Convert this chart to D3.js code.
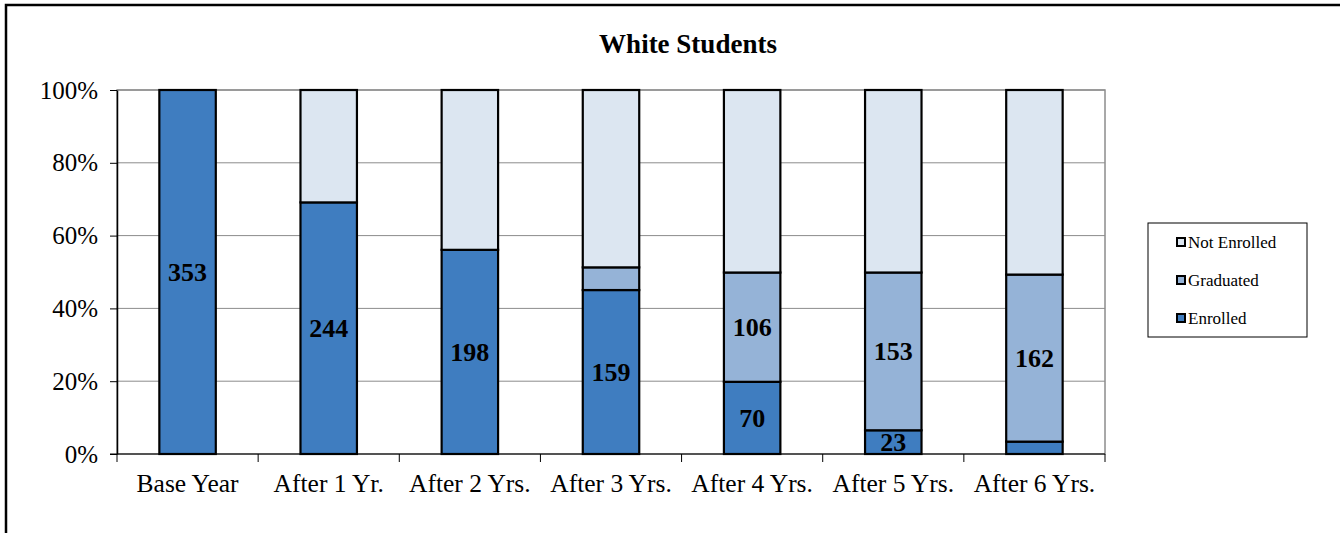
<!DOCTYPE html>
<html>
<head>
<meta charset="utf-8">
<title>White Students</title>
<script src="https://d3js.org/d3.v7.min.js"></script>
<style>
  body { margin: 0; background: #fff; }
  text { font-family: "Liberation Serif", "Times New Roman", serif; fill: #000; }
</style>
</head>
<body>
<script>
// data (student counts, cohort of 353)
var categories  = ["Base Year", "After 1 Yr.", "After 2 Yrs.", "After 3 Yrs.", "After 4 Yrs.", "After 5 Yrs.", "After 6 Yrs."];
var enrolled    = [353, 244, 198, 159, 70, 23, 12];
var graduated   = [0, 0, 0, 22, 106, 153, 162];
var notEnrolled = [0, 109, 155, 172, 177, 177, 179];
var showEnrolledLabel  = [true, true, true, true, true, true, false];
var showGraduatedLabel = [false, false, false, false, true, true, true];
var yTicks = [0, 0.2, 0.4, 0.6, 0.8, 1];

var W = 1340, H = 533;
var plot = {left: 117, right: 1105, top: 90, bottom: 454};

var svg = d3.select("body").append("svg").attr("width", W).attr("height", H);

// outer frame
svg.append("path").attr("d", "M6,533V5H1340").attr("fill", "none").attr("stroke", "#000").attr("stroke-width", 2.5);

var x = d3.scaleBand().domain(categories).range([plot.left, plot.right]).paddingInner(0.6).paddingOuter(0.3);
var xEdge = d3.scaleBand().domain(categories).range([plot.left, plot.right]);
var y = d3.scaleLinear().domain([0, 1]).range([plot.bottom, plot.top]);

// gridlines
svg.append("g").selectAll("line").data(yTicks.slice(1)).join("line")
  .attr("x1", plot.left).attr("x2", plot.right)
  .attr("y1", function(d) { return y(d); }).attr("y2", function(d) { return y(d); })
  .attr("stroke", "#8c8c8c").attr("stroke-width", 1);

// plot area border
svg.append("rect").attr("x", plot.left).attr("y", plot.top)
  .attr("width", plot.right - plot.left).attr("height", plot.bottom - plot.top)
  .attr("fill", "none").attr("stroke", "#8c8c8c").attr("stroke-width", 1.5);

// stacked data
var keys = ["enrolled", "graduated", "notEnrolled"];
var colors = {enrolled: "#3f7dc0", graduated: "#95b3d7", notEnrolled: "#dce6f1"};
var rows = categories.map(function(c, i) {
  var total = enrolled[i] + graduated[i] + notEnrolled[i];
  return {cat: c, i: i, enrolled: enrolled[i] / total, graduated: graduated[i] / total, notEnrolled: notEnrolled[i] / total,
          nE: enrolled[i], nG: graduated[i]};
});
var series = d3.stack().keys(keys)(rows);

var layers = svg.append("g").selectAll("g").data(series).join("g")
  .attr("fill", function(s) { return colors[s.key]; });

layers.selectAll("rect").data(function(s) { return s.filter(function(d) { return d[1] - d[0] > 0; }); }).join("rect")
  .attr("x", function(d) { return x(d.data.cat); })
  .attr("width", x.bandwidth())
  .attr("y", function(d) { return y(d[1]); })
  .attr("height", function(d) { return y(d[0]) - y(d[1]); })
  .attr("stroke", "#000").attr("stroke-width", 2.2);

// value labels
var labels = svg.append("g").attr("font-size", 26).attr("font-weight", "bold").attr("text-anchor", "middle");
series[0].forEach(function(d) {
  if (!showEnrolledLabel[d.data.i]) return;
  labels.append("text").attr("x", x(d.data.cat) + x.bandwidth() / 2)
    .attr("y", (y(d[0]) + y(d[1])) / 2).attr("dy", "0.35em").text(d.data.nE);
});
series[1].forEach(function(d) {
  if (!showGraduatedLabel[d.data.i]) return;
  labels.append("text").attr("x", x(d.data.cat) + x.bandwidth() / 2)
    .attr("y", (y(d[0]) + y(d[1])) / 2).attr("dy", "0.35em").text(d.data.nG);
});

// y axis
var yAxis = svg.append("g").attr("transform", "translate(" + plot.left + ",0)")
  .call(d3.axisLeft(y).tickValues(yTicks).tickFormat(d3.format(".0%")).tickSize(7).tickSizeOuter(0));
yAxis.select(".domain").attr("stroke", "#000").attr("stroke-width", 1.5);
yAxis.selectAll(".tick line").attr("stroke", "#000");
yAxis.selectAll("text").attr("font-size", 25).attr("x", -19).attr("font-family", "Liberation Serif, serif");

// x axis
svg.append("line").attr("x1", plot.left - 7).attr("x2", plot.right)
  .attr("y1", plot.bottom).attr("y2", plot.bottom).attr("stroke", "#000").attr("stroke-width", 1.2);
var edges = categories.map(function(c) { return xEdge(c); }).concat([plot.right]);
svg.append("g").selectAll("line").data(edges).join("line")
  .attr("x1", function(d) { return d; }).attr("x2", function(d) { return d; })
  .attr("y1", plot.bottom).attr("y2", plot.bottom + 8).attr("stroke", "#000").attr("stroke-width", 1);
svg.append("g").attr("font-size", 25.5).attr("text-anchor", "middle").selectAll("text").data(categories).join("text")
  .attr("x", function(d) { return xEdge(d) + xEdge.bandwidth() / 2; })
  .attr("y", 492).text(function(d) { return d; });

// title
svg.append("text").attr("x", 688).attr("y", 53).attr("text-anchor", "middle")
  .attr("font-size", 27).attr("font-weight", "bold").text("White Students");

// legend
var legendItems = [["Not Enrolled", colors.notEnrolled], ["Graduated", colors.graduated], ["Enrolled", colors.enrolled]];
var legend = svg.append("g");
legend.append("rect").attr("x", 1148).attr("y", 223).attr("width", 159).attr("height", 114)
  .attr("fill", "#fff").attr("stroke", "#000").attr("stroke-width", 1);
var li = legend.selectAll("g").data(legendItems).join("g")
  .attr("transform", function(d, i) { return "translate(1177," + (242 + i * 38) + ")"; });
li.append("rect").attr("x", 0).attr("y", -4).attr("width", 8).attr("height", 8)
  .attr("fill", function(d) { return d[1]; }).attr("stroke", "#000").attr("stroke-width", 2);
li.append("text").attr("x", 11).attr("dy", "0.35em").attr("font-size", 17).text(function(d) { return d[0]; });
</script>
</body>
</html>
